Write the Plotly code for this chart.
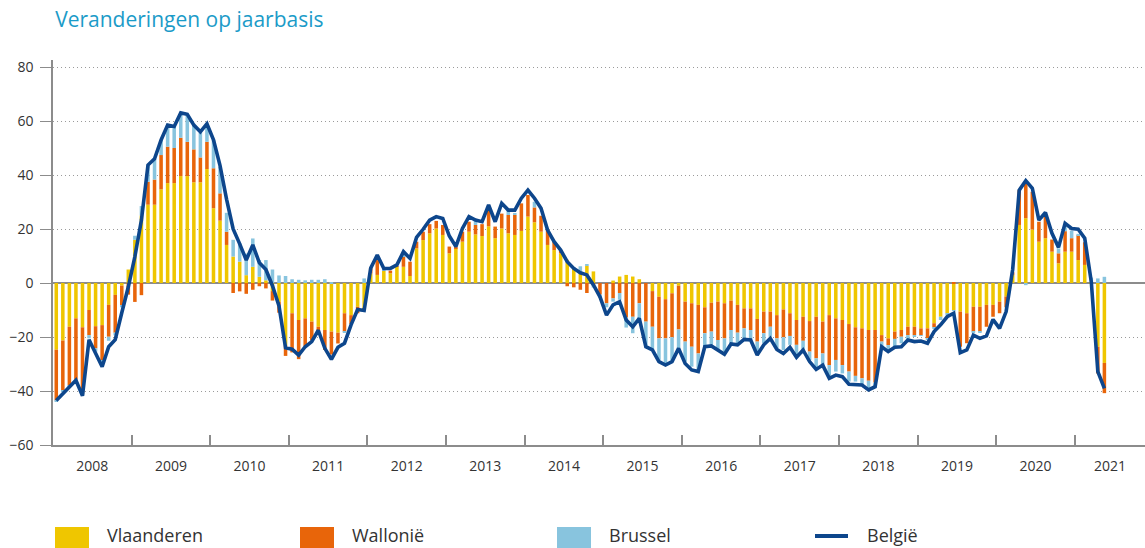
import plotly.graph_objects as go

years = ["2008", "2009", "2010", "2011", "2012", "2013", "2014",
         "2015", "2016", "2017", "2018", "2019", "2020", "2021"]

# monthly values, Jan 2008 .. May 2021
vlaanderen = [
    -24.7, -21.3, -16.2, -13.1, -16.4, -10.0, -16.0, -15.6, -8.1, -4.4, -1.0, 5.0,
    16.0, 25.0, 29.0, 29.0, 34.7, 37.0, 37.0, 39.6, 39.6, 37.3, 37.3, 42.2,
    27.7, 23.1, 14.1, 9.8, 7.9, 2.9, 6.0, 2.3, 1.0, -3.0, -7.0, -23.0,
    -11.2, -13.7, -13.1, -14.3, -16.2, -17.4, -18.0, -18.4, -11.2, -11.9, -8.8, -9.6,
    3.5, 3.0, 4.5, 3.6, 6.0, 6.0, 2.6, 12.8, 15.9, 18.4, 20.2, 17.8,
    11.0, 12.8, 15.3, 19.0, 18.0, 17.4, 21.0, 16.6, 20.2, 18.4, 17.8, 19.3,
    24.6, 22.5, 19.0, 14.1, 12.2, 11.0, 8.6, 5.4, 3.7, 6.4, 4.3, 0.0,
    0.0, 0.9, 2.4, 3.0, 2.4, 1.4, 0.0, -3.0, -5.1, -6.0, -3.8, -1.0,
    -6.9, -7.5, -8.1, -9.0, -7.3, -6.9, -7.5, -6.5, -8.1, -9.4, -9.4, -13.3,
    -10.6, -10.6, -11.9, -9.8, -11.2, -13.7, -12.5, -14.1, -12.5, -14.3, -11.9, -13.1,
    -13.7, -15.2, -16.4, -16.8, -17.4, -17.4, -19.3, -20.5, -18.0, -17.4, -16.2, -16.2,
    -16.8, -16.8, -14.9, -12.5, -11.2, -10.0, -10.6, -11.2, -8.8, -8.8, -8.1, -8.1,
    -6.9, -5.0, 3.0, 21.5, 24.0, 19.8, 15.3, 16.6, 11.6, 7.3, 11.6, 11.6,
    8.5, 6.7, 0.5, -23.6, -29.6,
]

wallonie = [
    -18.8, -18.6, -21.8, -22.5, -24.5, -9.3, -8.2, -13.0, -11.8, -14.0, -7.5, -4.3,
    -7.0, -4.5, 8.5, 9.3, 12.7, 13.5, 13.0, 14.2, 12.7, 12.2, 9.2, 10.1,
    14.8, 10.1, 4.9, -3.7, -3.1, -4.0, -2.5, -1.2, -2.0, -3.5, -4.0, -4.0,
    -14.5, -14.5, -10.4, -7.0, -2.0, -7.4, -8.5, -4.0, -6.8, -3.3, -2.4, -0.3,
    2.0, 5.5, 0.0, 1.0, 0.3, 4.0, 5.3, 2.5, 3.1, 3.4, 2.8, 3.7,
    2.5, 0.5, 3.7, 3.7, 3.5, 4.4, 5.8, 4.3, 5.5, 6.8, 7.4, 10.2,
    8.0, 5.5, 5.9, 5.5, 3.1, 1.0, -1.2, -1.6, -2.5, -3.7, -0.5, -4.3,
    -7.5, -5.7, -3.7, -12.8, -12.5, -7.5, -14.3, -13.2, -15.4, -14.5, -16.3, -16.2,
    -14.8, -16.1, -18.0, -9.6, -10.7, -14.2, -13.0, -10.9, -10.3, -7.4, -8.0, -8.4,
    -8.0, -5.6, -8.6, -10.3, -8.4, -9.2, -8.9, -11.3, -15.4, -11.8, -18.5, -15.4,
    -16.7, -17.6, -18.0, -18.5, -18.8, -19.5, -2.4, -2.5, -2.7, -2.5, -3.1, -3.1,
    -2.5, -3.7, -1.5, 0.0, 0.0, 0.3, -13.0, -11.1, -9.2, -9.2, -8.1, -4.4,
    -4.3, -4.0, 1.0, 12.9, 12.9, 14.0, 7.4, 8.0, 4.5, 3.7, 7.6, 5.0,
    9.2, 8.4, 0.0, -9.9, -11.2,
]

brussel = [
    -0.3, -0.3, -0.3, -0.5, -0.5, -1.2, -1.2, -0.5, -1.5, -1.0, -0.5, 0.0,
    1.5, 3.5, 6.2, 7.7, 5.6, 8.0, 8.0, 9.2, 10.2, 9.0, 9.2, 6.6,
    10.5, 9.8, 7.0, 6.2, 6.8, 8.0, 10.5, 6.2, 7.5, 5.0, 2.8, 2.6,
    1.4, 1.2, 1.0, 1.2, 1.2, 1.4, 0.3, 0.0, -0.5, 0.0, 0.0, 1.7,
    0.0, 0.0, 0.5, 0.0, 0.0, 0.5, 0.0, 0.0, 0.0, 0.0, 0.0, 0.0,
    0.0, 0.0, 0.0, 0.0, 1.5, 0.0, 0.0, 0.0, 0.0, 1.5, 0.5, 0.0,
    0.0, 2.1, 0.0, 0.0, 0.0, 0.0, 0.0, 0.5, 2.5, 0.6, -1.2, -1.2,
    -1.5, -1.2, -2.5, -3.7, -6.1, -6.2, -9.3, -8.6, -8.0, -9.3, -9.0, -7.0,
    -7.4, -7.4, -6.1, -5.0, -4.9, -3.7, -4.9, -4.9, -3.9, -3.7, -3.5, -4.4,
    -3.7, -3.7, -3.7, -4.7, -3.3, -4.4, -3.4, -3.1, -3.7, -4.3, -4.0, -4.3,
    -3.1, -3.7, -2.1, -2.5, -2.8, -1.8, -1.9, -1.8, -2.9, -2.4, -1.6, -0.5,
    -0.3, -0.3, -0.5, -1.2, -0.7, -0.3, 0.0, 0.0, -0.6, -0.5, 0.0, 0.0,
    0.0, 0.0, 0.0, 0.0, -0.8, 0.0, 0.0, 0.0, 0.0, 1.8, 1.5, 2.8,
    0.5, 0.0, 1.5, 1.7, 2.3,
]

belgie = [
    -43.5, -41.0, -38.5, -36.0, -41.8, -21.0, -26.0, -31.0, -23.6, -21.0, -11.0, -1.4,
    9.8, 23.3, 43.7, 46.0, 53.0, 58.5, 58.0, 63.0, 62.5, 58.5, 56.0, 59.0,
    53.0, 43.5, 31.0, 20.0, 14.5, 8.5, 14.1, 7.5, 5.0, -1.0, -8.5, -24.0,
    -24.5, -26.7, -23.6, -21.7, -17.5, -24.2, -28.3, -23.8, -22.3, -15.5, -9.8, -10.2,
    5.5, 10.4, 5.4, 5.4, 6.7, 11.6, 9.1, 16.9, 19.9, 23.3, 24.6, 23.9,
    17.4, 13.5, 20.2, 24.6, 23.3, 22.7, 28.9, 22.7, 29.5, 27.0, 27.0, 31.4,
    34.4, 31.4, 27.7, 19.6, 15.3, 12.2, 7.9, 5.4, 3.8, 3.0, -0.7, -5.1,
    -11.9, -8.1, -6.9, -13.7, -16.2, -13.1, -23.6, -24.8, -29.1, -30.4, -29.1, -24.2,
    -29.8, -32.2, -32.8, -23.6, -23.3, -24.8, -26.4, -22.6, -22.9, -20.9, -21.1, -26.7,
    -22.9, -20.5, -24.6, -26.1, -23.8, -27.5, -24.8, -29.1, -32.0, -30.4, -35.3, -34.1,
    -34.7, -37.5, -37.8, -37.8, -39.6, -38.4, -23.6, -25.4, -23.8, -23.6, -21.1, -21.7,
    -21.5, -22.3, -18.0, -15.5, -12.5, -11.2, -25.8, -24.8, -19.3, -20.5, -19.6, -13.5,
    -16.8, -10.6, 5.0, 34.4, 37.9, 35.1, 23.3, 26.1, 18.4, 13.2, 22.1, 20.2,
    19.9, 16.6, 0.5, -32.8, -39.0,
]

series_names = ["Vlaanderen", "Wallonië", "Brussel", "België"]
colors = ["#EFC600", "#E8650A", "#88C4DE", "#0D468C"]

n = len(belgie)
months = list(range(n))
x_end = 166.2

W, H = 1145, 548
L_M, R_M, T_M, B_M = 53, 0, 60, 103
PW, PH = W - L_M - R_M, H - T_M - B_M

fig = go.Figure()
for name, vals, col in zip(series_names[:3], [vlaanderen, wallonie, brussel], colors[:3]):
    fig.add_trace(go.Bar(x=months, y=vals, name=name, marker_color=col,
                         marker_line_width=0, showlegend=False))
fig.add_trace(go.Scatter(x=months, y=belgie, name=series_names[3], mode="lines",
                         line=dict(color=colors[3], width=3.6), showlegend=False))

year_starts = [12 * k - 0.5 for k in range(len(years))]
year_centers = [12 * k + 5.5 for k in range(len(years) - 1)]
year_centers.append((year_starts[-1] + x_end) / 2)

axis_col = "#8c8c8c"
fig.update_layout(
    width=W, height=H,
    margin=dict(l=L_M, r=R_M, t=T_M, b=B_M, autoexpand=False),
    plot_bgcolor="white", paper_bgcolor="white",
    barmode="relative", bargap=0.46,
    font=dict(family="Open Sans", size=14, color="#333333"),
    title=dict(text="Veranderingen op jaarbasis", x=0.002, xref="paper", xanchor="left",
               y=1 - 20 / H, yanchor="middle",
               font=dict(family="Open Sans", size=21, color="#1B9BC8")),
    xaxis=dict(range=[-0.5, x_end], tickvals=year_centers, ticktext=years,
               ticks="", showgrid=False, zeroline=False,
               showline=True, linecolor=axis_col, linewidth=1.5,
               ticklabelstandoff=7, tickfont=dict(size=14, color="#333333"),
               minor=dict(tickvals=year_starts[1:], ticks="inside", ticklen=10,
                          tickwidth=1.5, tickcolor=axis_col, showgrid=False)),
    yaxis=dict(range=[-60, 82.6], tickvals=list(range(-60, 81, 20)),
               ticks="outside", ticklen=11, tickwidth=1.2, tickcolor=axis_col,
               showline=True, linecolor=axis_col, linewidth=1.5,
               showgrid=True, gridcolor="#9a9a9a", griddash="1px,3px", gridwidth=1.2,
               zeroline=True, zerolinecolor=axis_col, zerolinewidth=2,
               layer="above traces", ticklabelstandoff=4,
               tickfont=dict(size=14, color="#333333")),
)

# legend drawn below the chart
def px_x(p):
    return (p - L_M) / PW

def px_y(p):
    return (H - B_M - p) / PH

legend_x = [55, 300, 557, 815]
for name, col, lx in zip(series_names, colors, legend_x):
    if name == "België":
        fig.add_shape(type="line", xref="paper", yref="paper",
                      x0=px_x(lx), x1=px_x(lx + 33), y0=px_y(536), y1=px_y(536),
                      line=dict(color=col, width=4))
    else:
        fig.add_shape(type="rect", xref="paper", yref="paper",
                      x0=px_x(lx), x1=px_x(lx + 34), y0=px_y(527), y1=px_y(548),
                      fillcolor=col, line_width=0)
    fig.add_annotation(text=name, xref="paper", yref="paper",
                       x=px_x(lx + 50), y=px_y(535), xanchor="left", yanchor="middle",
                       showarrow=False, font=dict(size=18, color="#333333"))

fig.write_html("out.html", config={"displayModeBar": False},
               post_script="document.body.style.margin='0';document.body.style.padding='0';")
